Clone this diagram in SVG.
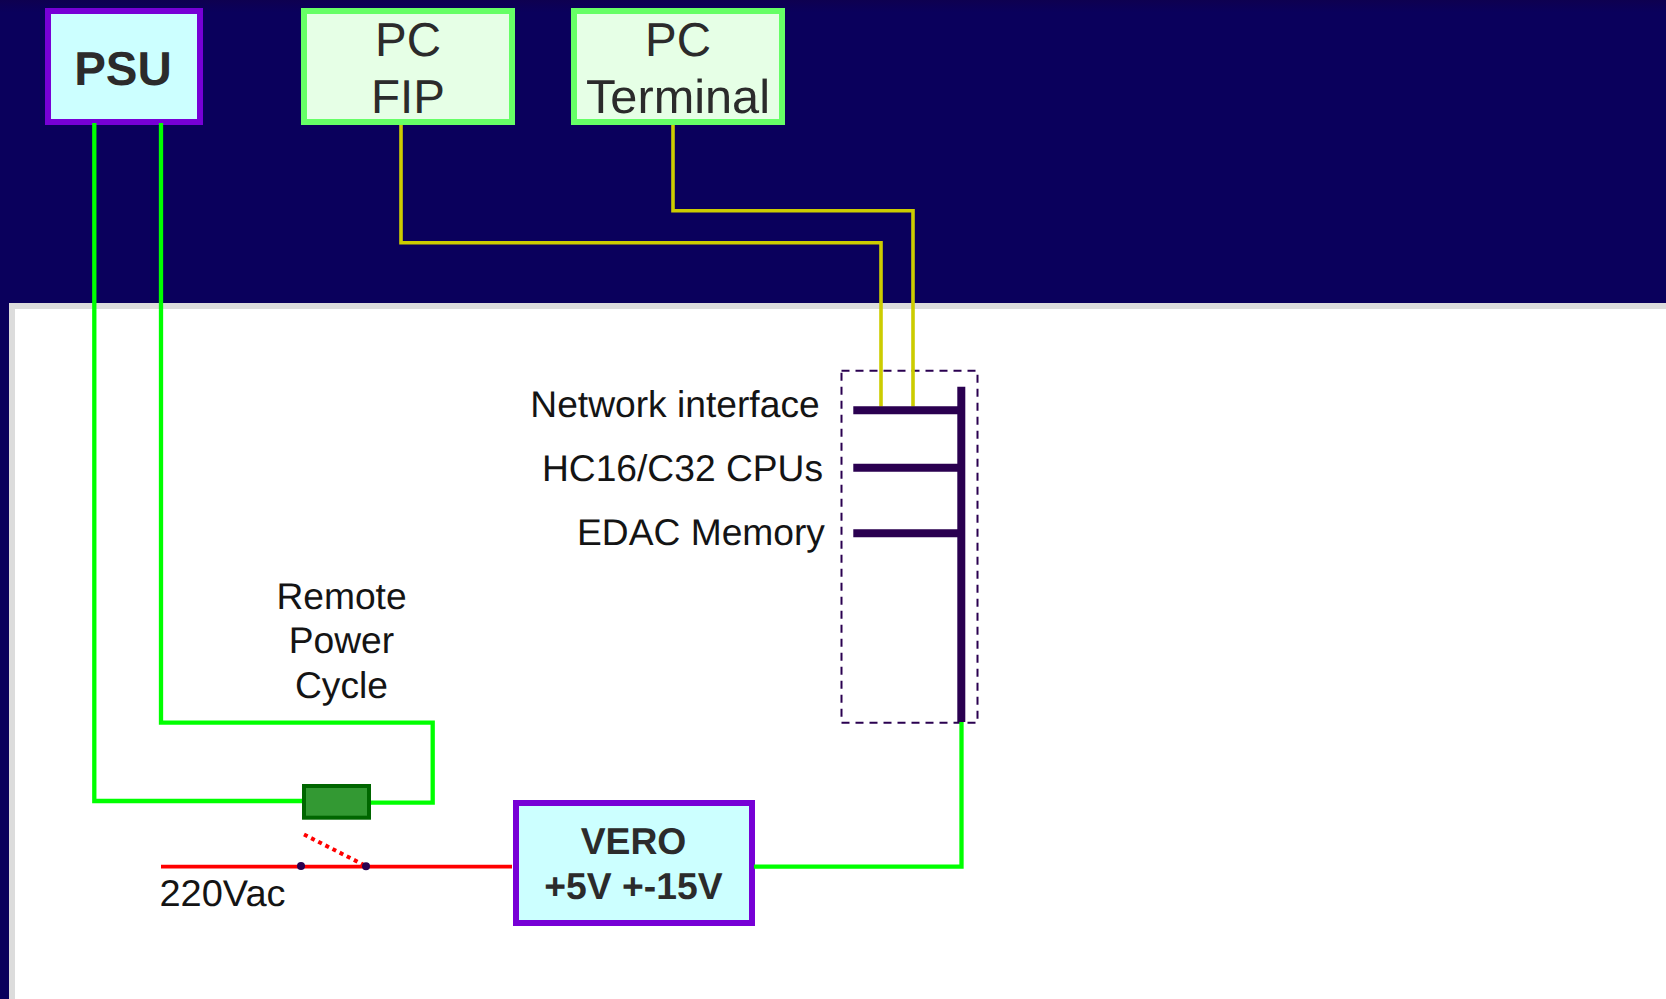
<svg xmlns="http://www.w3.org/2000/svg" width="1666" height="999" viewBox="0 0 1666 999">
<defs>
<linearGradient id="bg" x1="0" y1="0" x2="0" y2="1"><stop offset="0" stop-color="#0e0050"/><stop offset="0.04" stop-color="#0a005c"/><stop offset="1" stop-color="#0a005c"/></linearGradient>
</defs>
<style>
text{font-family:"Liberation Sans",Arial,sans-serif;text-anchor:middle;text-rendering:geometricPrecision}
.lbl{font-size:37.2px;fill:#141414}
.pc{font-size:47.5px;fill:#2b2b2b}
.pw{font-weight:bold;fill:#2b2b2b}
.pcbox{fill:#e6ffe6;stroke:#66ff66;stroke-width:6}
.pwbox{fill:#ccffff;stroke:#7700d6;stroke-width:6}
.g{fill:none;stroke:#00ff00;stroke-width:4.3}
.y{fill:none;stroke:#cccc00;stroke-width:3.6}
.bus{fill:none;stroke:#2a0050;stroke-width:8}
</style>
<rect x="0" y="0" width="1666" height="310" fill="url(#bg)"/>
<rect x="0" y="300" width="12" height="699" fill="#0a005c"/>
<rect x="12" y="306" width="1660" height="700" fill="#fff" stroke="#dcdcdc" stroke-width="6"/>
<g id="psu"><rect class="pwbox" x="48" y="11" width="152" height="111"/><text class="pw" x="123" y="85" font-size="47.5">PSU</text></g>
<g id="pc-fip"><rect class="pcbox" x="304" y="11" width="208" height="111"/><text class="pc" x="408" y="55.5">PC</text><text class="pc" x="408" y="112.5">FIP</text></g>
<g id="pc-terminal"><rect class="pcbox" x="574" y="11" width="208" height="111"/><text class="pc" x="678" y="55.5">PC</text><text class="pc" x="678" y="112.5" textLength="184" lengthAdjust="spacingAndGlyphs">Terminal</text></g>
<g id="cpu-box">
<rect x="841.5" y="370.7" width="136" height="352" fill="none" stroke="#2a0050" stroke-width="2" stroke-dasharray="8 6"/>
</g>
<g id="labels">
<text class="lbl" x="675" y="417">Network interface</text>
<text class="lbl" x="682.5" y="481">HC16/C32 CPUs</text>
<text class="lbl" x="701" y="545">EDAC Memory</text>
<text class="lbl" x="341.5" y="609">Remote</text>
<text class="lbl" x="341.5" y="653">Power</text>
<text class="lbl" x="341.5" y="698">Cycle</text>
<text class="lbl" x="222.5" y="905.5" textLength="126" lengthAdjust="spacingAndGlyphs">220Vac</text>
</g>
<g id="relay"><rect x="304" y="786" width="65" height="31.7" fill="#339933" stroke="#006600" stroke-width="4"/></g>
<g id="vero"><rect class="pwbox" x="516" y="803" width="236" height="120"/><text class="pw" x="633.5" y="854" font-size="37.3">VERO</text><text class="pw" x="633.5" y="899" font-size="37.3">+5V +-15V</text></g>
<g id="connectors">
<path class="g" d="M94.3 123V801H302"/>
<path class="g" d="M161 123V722.7H432.7V802.7H371"/>
<path class="g" d="M754 866.7H961.5V722"/>
<path class="y" d="M401 125V242.7H881V406.5"/>
<path class="y" d="M673 125V210.7H913V406.5"/>
<path d="M161 866.7H512" fill="none" stroke="#ff0000" stroke-width="3.8"/>
<path d="M304 834.5L366 866" fill="none" stroke="#ff0000" stroke-width="4" stroke-dasharray="4 4"/>
<path class="bus" d="M961.3 386.7V722M853.3 410.3H961M853.3 467.7H961M853.3 533.3H961"/>
</g>
<g id="switch"><circle cx="301" cy="866" r="4" fill="#2a0050"/><circle cx="366" cy="866.3" r="4" fill="#2a0050"/></g>
</svg>
